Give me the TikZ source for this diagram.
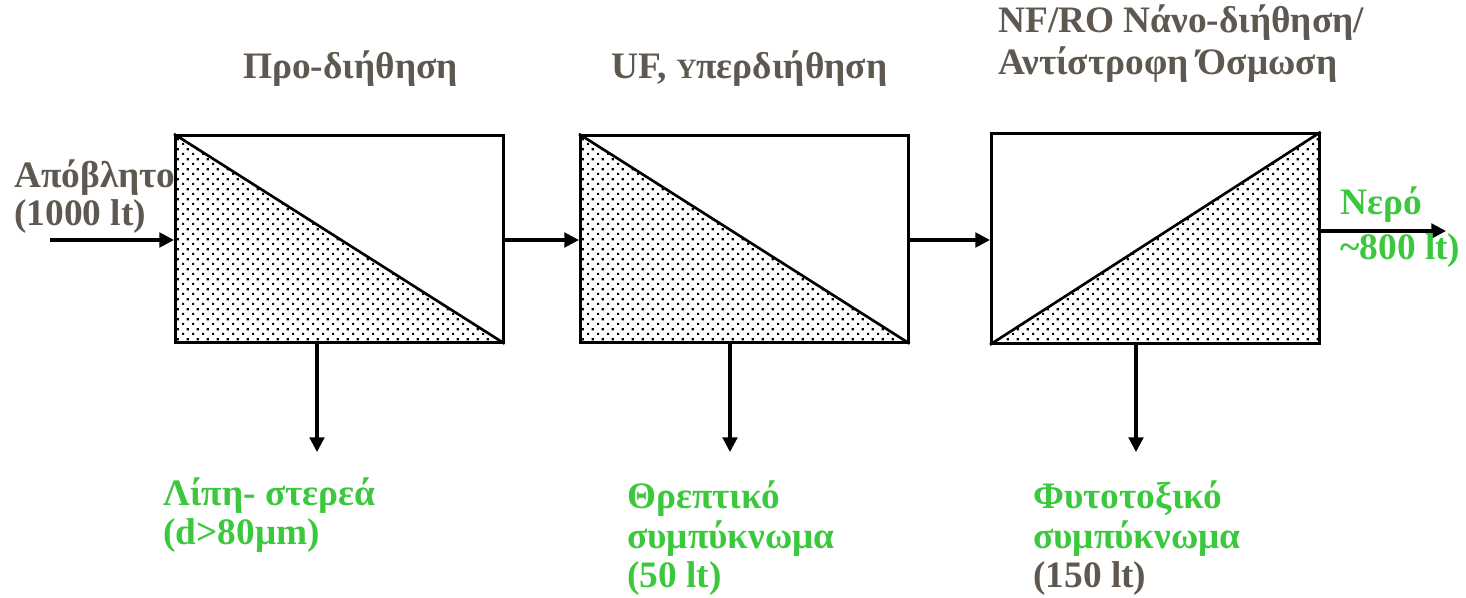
\documentclass[tikz,border=0pt]{standalone}
\usepackage{fontspec}
\setmainfont{Liberation Serif}
\usetikzlibrary{arrows.meta,patterns.meta}
\definecolor{txtgray}{RGB}{94,88,80}
\definecolor{txtgreen}{RGB}{60,200,60}
\tikzdeclarepattern{
  name=sdots,
  type=uncolored,
  bounding box={(0pt,0pt) and (7.6pt,7.6pt)},
  tile size={(7.6pt,7.6pt)},
  code={\fill (0pt,0pt) rectangle (1.7pt,1.7pt);
        \fill (3.8pt,3.8pt) rectangle (5.5pt,5.5pt);}
}
\begin{document}
\begin{tikzpicture}[x=0.75pt,y=-0.75pt,
  box/.style={draw,line width=2pt,minimum width=246pt,minimum height=155.25pt,anchor=north west,inner sep=0},
  flow/.style={line width=2.3pt,-{Triangle[length=11pt,width=11pt]}},
  gtxt/.style={font=\bfseries\fontsize{28}{32}\selectfont,text=txtgray,inner sep=0,anchor=base west},
  ctxt/.style={font=\bfseries\fontsize{28}{32}\selectfont,text=txtgreen,inner sep=0,anchor=base west}]
\useasboundingbox (0,0) rectangle (1466,598);
% boxes
\node[box] (b1) at (174,134) {};
\node[box] (b2) at (579,134) {};
\node[box,minimum height=157.5pt] (b3) at (990,132) {};
\fill[pattern=sdots] (b1.north west) -- (b1.south east) -- (b1.south west) -- cycle;
\fill[pattern=sdots] (b2.north west) -- (b2.south east) -- (b2.south west) -- cycle;
\fill[pattern=sdots] (b3.south west) -- (b3.north east) -- (b3.south east) -- cycle;
\draw[line width=2pt] (b1.north west) -- (b1.south east);
\draw[line width=2pt] (b2.north west) -- (b2.south east);
\draw[line width=2pt] (b3.south west) -- (b3.north east);
\node[box] at (174,134) {};
\node[box] at (579,134) {};
\node[box,minimum height=157.5pt] at (990,132) {};
% connectors
\coordinate (in) at (50,240);
\coordinate (out) at (1446,231);
\coordinate (d1) at (317,452);
\coordinate (d2) at (730,452);
\coordinate (d3) at (1136,452);
\draw[flow] (in) -- (in -| b1.west);
\draw[flow] (in -| b1.east) -- (in -| b2.west);
\draw[flow] (in -| b2.east) -- (in -| b3.west);
\draw[flow] (out -| b3.east) -- (out);
\draw[flow] (d1 |- b1.south) -- (d1);
\draw[flow] (d2 |- b2.south) -- (d2);
\draw[flow] (d3 |- b3.south) -- (d3);
% titles
\node[gtxt] (t1) at (243,79) {Προ-διήθηση};
\node[gtxt] (t2) at (611,79) {UF, {\fontsize{21}{24}\selectfont Υ}περδιήθηση};
\node[gtxt] (t3a) at (998,33) {NF/RO Νάνο-διήθηση/};
\node[gtxt] (t3b) at (998,75) {Αντίστροφη Όσμωση};
% input / output
\node[gtxt] (ina) at (14,188) {Απόβλητο};
\node[gtxt] (inb) at (14,226) {(1000 lt)};
\node[ctxt] (outa) at (1340,215) {Νερό};
\node[ctxt] (outb) at (1340,260) {\textasciitilde800 lt)};
% bottom labels
\node[ctxt] (l1a) at (163,505) {Λίπη- στερεά};
\node[ctxt] (l1b) at (163,544) {(d>80μm)};
\node[ctxt] (l2a) at (627,508) {Θρεπτικό};
\node[ctxt] (l2b) at (627,548) {συμπύκνωμα};
\node[ctxt] (l2c) at (627,587) {(50 lt)};
\node[ctxt] (l3a) at (1033,508) {Φυτοτοξικό};
\node[ctxt] (l3b) at (1033,548) {συμπύκνωμα};
\node[gtxt] (l3c) at (1033,587) {(150 lt)};
\end{tikzpicture}
\end{document}
